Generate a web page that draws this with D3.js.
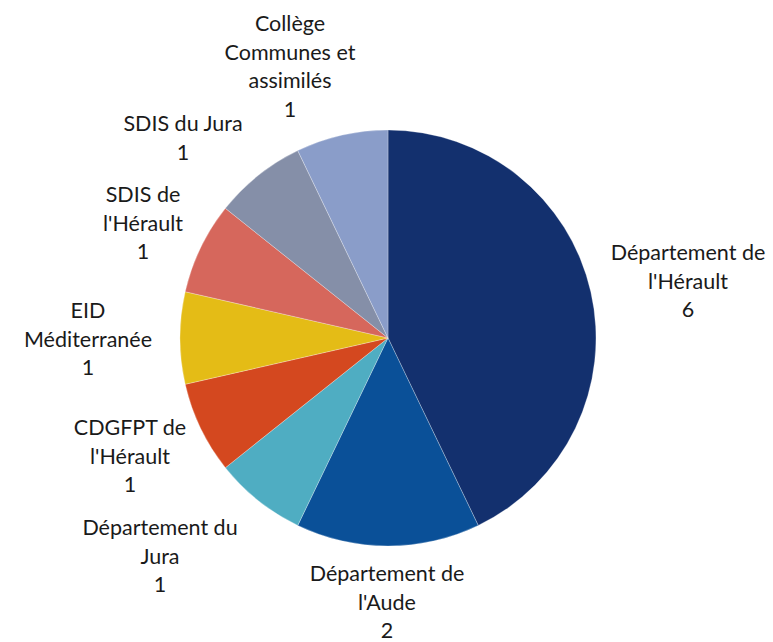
<!DOCTYPE html>
<html>
<head>
<meta charset="utf-8">
<script src="https://cdn.jsdelivr.net/npm/d3@7"></script>
<style>
  html, body { margin: 0; padding: 0; background: #ffffff; }
  svg { display: block; }
  text { font-family: "Lato", "Open Sans", sans-serif; fill: #1a1a1a; }
</style>
</head>
<body>
<svg id="chart" width="773" height="642"></svg>
<script>
// ---- data ----
const categories = [
  ["Département de", "l'Hérault"],
  ["Département de", "l'Aude"],
  ["Département du", "Jura"],
  ["CDGFPT de", "l'Hérault"],
  ["EID", "Méditerranée"],
  ["SDIS de", "l'Hérault"],
  ["SDIS du Jura"],
  ["Collège", "Communes et", "assimilés"]
];
const values = [6, 2, 1, 1, 1, 1, 1, 1];
const colors = ["#13306E", "#0A5098", "#4FADC2", "#D4481F", "#E4BC16", "#D6675C", "#858FA8", "#8A9DC9"];

// ---- layout (label centres, first line y) ----
const labelPos = [
  [688, 252], [387, 573], [160, 527], [130, 427],
  [88, 310], [143, 194], [183, 123], [290, 23]
];

const svg = d3.select("#chart");
const cx = 388, cy = 338, r = 208;
const lineH = 28.5;

const pie = d3.pie().sort(null).value(d => d)(values);
const arc = d3.arc().innerRadius(0).outerRadius(r);

const g = svg.append("g").attr("transform", `translate(${cx},${cy})`);
g.selectAll("path").data(pie).join("path")
  .attr("d", arc)
  .attr("fill", (d, i) => colors[i])
  .attr("stroke", "#ffffff")
  .attr("stroke-opacity", 0.35)
  .attr("stroke-width", 0.8);

const labels = svg.append("g").selectAll("text").data(pie).join("text")
  .attr("text-anchor", "middle")
  .attr("font-size", 21.5)
  .attr("dominant-baseline", "central");

labels.each(function(d, i) {
  const t = d3.select(this);
  const lines = categories[i].concat([String(values[i])]);
  const [x, y] = labelPos[i];
  lines.forEach((ln, k) => {
    t.append("tspan").attr("x", x).attr("y", y + k * lineH).text(ln);
  });
});
</script>
</body>
</html>
